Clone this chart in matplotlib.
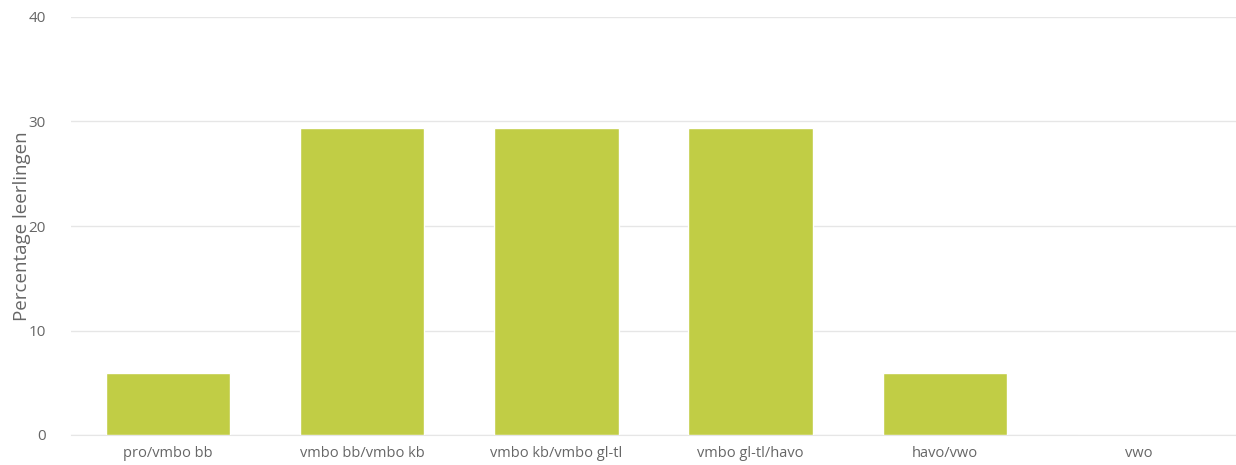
import matplotlib
matplotlib.use("Agg")
import matplotlib.pyplot as plt

categories = ["pro/vmbo bb", "vmbo bb/vmbo kb", "vmbo kb/vmbo gl-tl",
              "vmbo gl-tl/havo", "havo/vwo", "vwo"]
values = [5.9, 29.4, 29.4, 29.4, 5.9, 0.0]
yticks = [0, 10, 20, 30, 40]

plt.rcParams['font.family'] = ['Open Sans', 'DejaVu Sans']

fig = plt.figure(figsize=(12.36, 4.65), dpi=100)
ax = fig.add_axes([71/1236, 1 - 435/465, 1 - 71/1236, (435 - 17)/465])

x = list(range(len(categories)))
ax.bar(x, values, width=0.64, color="#c1cd45", edgecolor="white", linewidth=1, zorder=3)

ax.set_xlim(-0.5, len(categories) - 0.5)
ax.set_ylim(0, 40)
ax.set_yticks(yticks)
ax.set_xticks(x)
ax.set_xticklabels(categories)
ax.yaxis.grid(True, color="#e6e6e6", linewidth=1, zorder=0)
ax.set_axisbelow(True)
for s in ["top", "right", "left"]:
    ax.spines[s].set_visible(False)
ax.spines["bottom"].set_color("#e6e6e6")
ax.tick_params(axis="x", length=0, colors="#666666", labelsize=10.5, pad=8)
ax.tick_params(axis="y", length=0, colors="#666666", labelsize=11, pad=18)
ax.set_ylabel("Percentage leerlingen", fontsize=13.5, color="#666666")
ax.yaxis.set_label_coords((31 - 71) / 1165, 0.5)

fig.savefig("out.png", dpi=100)
